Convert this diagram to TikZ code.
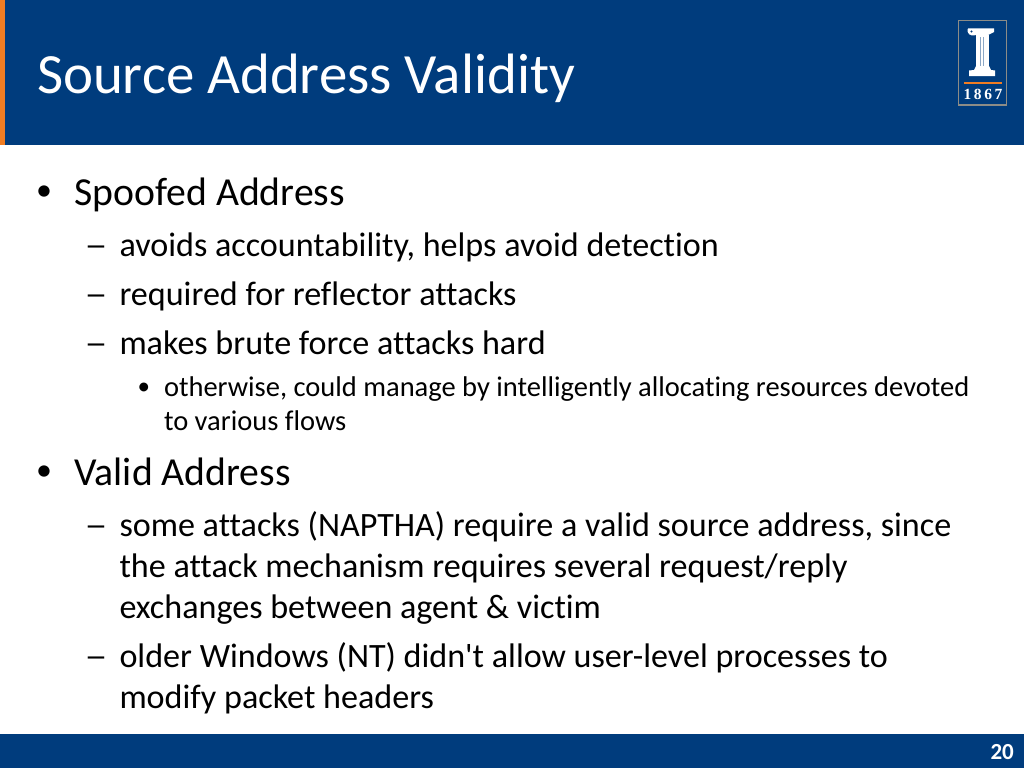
\documentclass[tikz,border=0pt]{standalone}
\usepackage{fontspec}
\newfontfamily\slidefont[Ligatures=NoCommon]{Carlito}
\newfontfamily\logofont{Liberation Serif}
\definecolor{illiniblue}{RGB}{0,60,125}
\definecolor{illiniorange}{RGB}{240,125,35}
\definecolor{logoframe}{RGB}{140,140,135}
\definecolor{bodyblack}{RGB}{0,0,0}
\newcommand{\wdash}{\scalebox{1.35}[1]{–}}
\tikzset{
  txt/.style={anchor=base west,inner sep=0pt,outer sep=0pt,text=bodyblack},
  ttl/.style={txt,text=white,font=\slidefont\fontsize{56.9}{60}\selectfont},
  lone/.style={txt,font=\slidefont\fontsize{39.7}{44}\selectfont},
  ltwo/.style={txt,font=\slidefont\fontsize{34.1}{38}\selectfont},
  lthree/.style={txt,font=\slidefont\fontsize{28.5}{32}\selectfont},
  bone/.style={txt,font=\slidefont\fontsize{32}{36}\selectfont},
  bthree/.style={txt,font=\slidefont\fontsize{25}{28}\selectfont},
  colw/.style={fill=white,draw=none}
}
\begin{document}
\begin{tikzpicture}[x=1pt,y=-1pt]
\useasboundingbox (0,0) rectangle (1024,768);
\fill[white] (0,0) rectangle (1024,768);
\fill[illiniblue] (0,0) rectangle (1024,145);
\fill[illiniorange] (0,0) rectangle (5,145);
\fill[illiniblue] (0,734) rectangle (1024,768);
% logo
\draw[logoframe,line width=1.5pt] (958.5,20.5) rectangle (1006.5,105);
\fill[colw] (968,28.5) -- (994,28.5) -- (994,32) -- (988,35) -- (977,35) -- (972,35.5) .. controls (967,35) and (967,29) .. (968,28.5) -- cycle;
\fill[illiniblue] (971.5,31.5) circle (1.2pt);
\fill[colw] (976,35) rectangle (989,70);
\fill[illiniblue!45!white] (979.5,37) rectangle (980.5,68);
\fill[illiniblue!45!white] (983,37) rectangle (984,68);
\fill[colw] (976,66) -- (989,66) -- (991,70) -- (995,70.5) -- (995,76) -- (969,76) -- (969,70.5) -- (974,70) -- cycle;
\fill[illiniorange] (964,82) rectangle (1002,84);
\node[inner sep=0pt,text=white,font=\logofont\bfseries\fontsize{15.5}{16}\selectfont,anchor=base] (logoyear) at (983,99) {1\,8\,6\,7};
% title
\node[ttl] (title) at (37,93.5) {Source Address Validity};
% bullets
\node[bone] (b1) at (36,200) {•};
\node[lone] (t1) at (74.5,205) {Spoofed Address};
\node[ltwo] (d1) at (84.5,256) {\wdash};
\node[ltwo] (t2) at (119.5,256) {avoids accountability, helps avoid detection};
\node[ltwo] (d2) at (84.5,305) {\wdash};
\node[ltwo] (t3) at (119.5,305) {required for reflector attacks};
\node[ltwo] (d3) at (84.5,354) {\wdash};
\node[ltwo] (t4) at (119.5,354) {makes brute force attacks hard};
\node[bthree] (b2) at (137.5,394) {•};
\node[lthree] (t5) at (164,396.5) {otherwise, could manage by intelligently allocating resources devoted};
\node[lthree] (t6) at (164,430.5) {to various flows};
\node[bone] (b3) at (36,480) {•};
\node[lone] (t7) at (74.5,485) {Valid Address};
\node[ltwo] (d4) at (84.5,536) {\wdash};
\node[ltwo] (t8) at (119.5,536) {some attacks (NAPTHA) require a valid source address, since};
\node[ltwo] (t9) at (119.5,577) {the attack mechanism requires several request/reply};
\node[ltwo] (t10) at (119.5,618) {exchanges between agent \& victim};
\node[ltwo] (d5) at (84.5,667) {\wdash};
\node[ltwo] (t11) at (119.5,667) {older Windows (NT) didn't allow user-level processes to};
\node[ltwo] (t12) at (119.5,708) {modify packet headers};
% page number
\node[anchor=base east,inner sep=0pt,text=white,font=\slidefont\bfseries\fontsize{23}{26}\selectfont] (pagenum) at (1014,759) {20};
\end{tikzpicture}
\end{document}
